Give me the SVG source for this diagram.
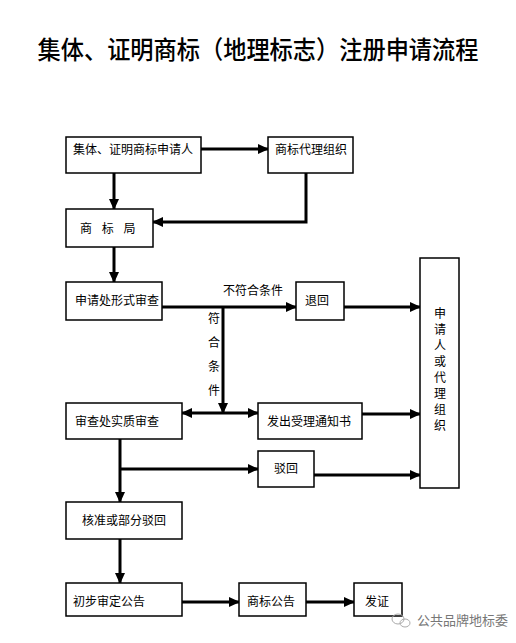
<svg xmlns="http://www.w3.org/2000/svg" width="516" height="643" viewBox="0 0 516 643">
<defs>
<marker id="ah" markerUnits="userSpaceOnUse" markerWidth="11" markerHeight="10" refX="10" refY="5" orient="auto">
<path d="M0,0 L11,5 L0,10 z" fill="#000"/>
</marker>
<style>
.box{fill:#fff;stroke:#000;stroke-width:1.5}
.t{font-family:"Noto Sans CJK SC","Noto Sans",sans-serif;font-size:12px;fill:#000}
.c{fill:none;stroke:#000;stroke-width:3}
.ca{fill:none;stroke:#000;stroke-width:3;marker-end:url(#ah)}
</style>
</defs>
<rect width="516" height="643" fill="#fff"/>
<text x="258" y="59" text-anchor="middle" font-family="'Noto Sans CJK SC',sans-serif" font-size="25" font-weight="500" textLength="441" lengthAdjust="spacingAndGlyphs">集体、证明商标（地理标志）注册申请流程</text>

<g id="connectors">
<path class="ca" d="M201,149 H268"/>
<path class="ca" d="M114,173 V209"/>
<path class="ca" d="M306,173 V222 H153"/>
<path class="ca" d="M114,247 V282"/>
<path class="ca" d="M162,307 H296"/>
<path class="ca" d="M344,307 H420"/>
<path class="ca" d="M223,307 V413"/>
<path class="ca" d="M223,413 H182"/>
<path class="ca" d="M223,413 H258"/>
<path class="ca" d="M362,414 H420"/>
<path class="ca" d="M120,439 V502"/>
<path class="ca" d="M120,469 H258"/>
<path class="ca" d="M314,475 H420"/>
<path class="ca" d="M120,539 V583"/>
<path class="ca" d="M182,602 H239"/>
<path class="ca" d="M306,602 H354"/>
<text class="t" x="223" y="295">不符合条件</text>
<text class="t" x="214" text-anchor="middle"><tspan x="214" y="323">符</tspan><tspan x="214" y="347">合</tspan><tspan x="214" y="371">条</tspan><tspan x="214" y="395">件</tspan></text>
</g>

<g id="n_applicant"><rect class="box" x="66" y="137" width="135" height="36"/><text class="t" x="73" y="154">集体、证明商标申请人</text></g>
<g id="n_agent"><rect class="box" x="268" y="137" width="85" height="36"/><text class="t" x="275" y="154">商标代理组织</text></g>
<g id="n_office"><rect class="box" x="66" y="209" width="87" height="38"/><text class="t" x="80" y="233" style="white-space:pre" word-spacing="7">商 标 局</text></g>
<g id="n_formal"><rect class="box" x="66" y="282" width="96" height="38"/><text class="t" x="75" y="305">申请处形式审查</text></g>
<g id="n_return"><rect class="box" x="296" y="282" width="48" height="38"/><text class="t" x="305" y="305">退回</text></g>
<g id="n_party"><rect class="box" x="420" y="258" width="39" height="230"/>
<text class="t" text-anchor="middle"><tspan x="440" y="318">申</tspan><tspan x="440" y="334">请</tspan><tspan x="440" y="350">人</tspan><tspan x="440" y="366">或</tspan><tspan x="440" y="382">代</tspan><tspan x="440" y="398">理</tspan><tspan x="440" y="414">组</tspan><tspan x="440" y="430">织</tspan></text></g>
<g id="n_substantive"><rect class="box" x="66" y="403" width="116" height="36"/><text class="t" x="75" y="426">审查处实质审查</text></g>
<g id="n_notice"><rect class="box" x="258" y="403" width="104" height="36"/><text class="t" x="267" y="426">发出受理通知书</text></g>
<g id="n_reject"><rect class="box" x="258" y="451" width="56" height="36"/><text class="t" x="286" y="473" text-anchor="middle">驳回</text></g>
<g id="n_approve"><rect class="box" x="66" y="502" width="116" height="37"/><text class="t" x="124" y="525" text-anchor="middle">核准或部分驳回</text></g>
<g id="n_prelim"><rect class="box" x="66" y="583" width="116" height="33"/><text class="t" x="73" y="606">初步审定公告</text></g>
<g id="n_announce"><rect class="box" x="239" y="583" width="67" height="33"/><text class="t" x="247" y="606">商标公告</text></g>
<g id="n_cert"><rect class="box" x="354" y="583" width="48" height="33"/><text class="t" x="365" y="606">发证</text></g>

<g id="watermark" fill="none" stroke="#aaa" stroke-width="1">
<ellipse cx="398" cy="619" rx="6" ry="5"/>
<ellipse cx="405" cy="623" rx="5" ry="4"/>
<text x="417" y="625" font-family="'Noto Sans CJK SC',sans-serif" font-size="13" fill="#777" stroke="none">公共品牌地标委</text>
</g>
</svg>
